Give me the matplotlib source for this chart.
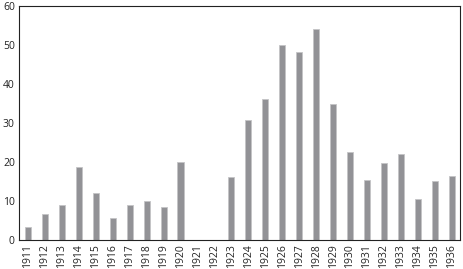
import matplotlib
matplotlib.use("Agg")
import matplotlib.pyplot as plt
import numpy as np

years = [str(y) for y in range(1911, 1937)]
counts = [3.4, 6.7, 9.0, 18.6, 12.1, 5.6, 9.0, 10.1, 8.5, 19.9,
          0, 0, 16.0, 30.8, 36.2, 50.0, 48.1, 54.1, 34.9, 22.6,
          15.3, 19.7, 22.0, 10.4, 15.0, 16.3]
yticks = [0, 10, 20, 30, 40, 50, 60]

plt.rcParams["font.family"] = ["Open Sans", "DejaVu Sans"]

fig = plt.figure(figsize=(4.63, 2.69), dpi=100)
ax = fig.add_axes([0.041, 0.108, 0.9525, 0.871])

x = np.arange(len(years))
ax.bar(x, counts, width=0.36, color="#929296", edgecolor="#c4c4c6", linewidth=0.6)

ax.set_xlim(-0.53, len(years) - 0.51)
ax.set_ylim(0, 60)
ax.set_yticks(yticks)
ax.set_xticks(x)
ax.set_xticklabels(years, rotation=90)
ax.tick_params(axis="both", length=0, labelsize=7.5, colors="#222222", pad=3)
for s in ax.spines.values():
    s.set_linewidth(0.8)
    s.set_color("#222222")

fig.savefig("out.png", dpi=100)
